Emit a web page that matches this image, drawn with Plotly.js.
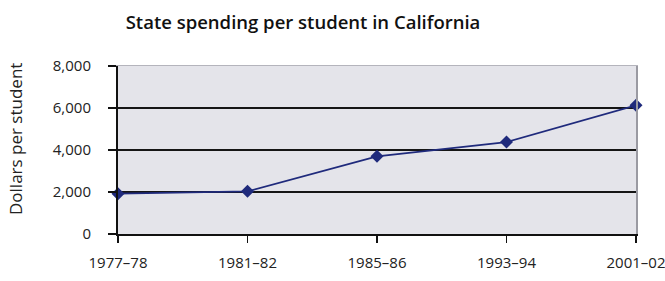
<!DOCTYPE html>
<html>
<head>
<meta charset="utf-8">
<script src="https://cdn.plot.ly/plotly-3.0.1.min.js"></script>
<style>html,body{margin:0;padding:0;background:#fff;}#chart{width:665px;height:281px;}</style>
</head>
<body>
<div id="chart"></div>
<script>
const years = ["1977–78", "1981–82", "1985–86", "1993–94", "2001–02"];
const spending = [1920, 2030, 3700, 4380, 6130];
const gridValues = [2000, 4000, 6000];
const yTicks = [0, 2000, 4000, 6000, 8000];

const fontFam = "'Open Sans', 'Noto Sans', sans-serif";

const traces = [
  {
    x: years, y: spending, xaxis: 'x2', yaxis: 'y2', type: 'scatter', mode: 'none',
    hoverinfo: 'skip', showlegend: false
  },
  {
    x: years, y: spending, type: 'scatter', mode: 'lines+markers',
    line: {color: '#1f2a7c', width: 1.8},
    marker: {symbol: 'diamond', size: 10, color: '#1f2a7c'},
    cliponaxis: false, hoverinfo: 'skip', showlegend: false
  }
];

const layout = {
  width: 665, height: 281,
  margin: {l: 118, r: 29, t: 66, b: 47},
  paper_bgcolor: '#ffffff',
  plot_bgcolor: '#e4e4ea',
  font: {family: fontFam, color: '#222'},
  title: {
    text: 'State spending per student in California',
    font: {family: fontFam, size: 18.5, weight: 600, color: '#111'},
    xref: 'container', yref: 'container', x: 303 / 665, xanchor: 'center',
    y: 1 - 23 / 281, yanchor: 'middle'
  },
  xaxis: {
    type: 'category', range: [0, 4],
    showgrid: false, zeroline: false,
    showline: true, linecolor: '#111', linewidth: 2,
    ticks: 'outside', ticklen: 7, tickcolor: '#111', tickwidth: 1.5,
    tickfont: {size: 15, color: '#222'}, ticklabelstandoff: 7,
    fixedrange: true
  },
  xaxis2: {
    type: 'category', range: [0, 4], overlaying: 'x', side: 'top',
    showgrid: false, zeroline: false, showticklabels: false, ticks: '',
    showline: true, linecolor: '#b4b4bc', linewidth: 1,
    fixedrange: true
  },
  yaxis: {
    range: [0, 8000], tickvals: yTicks, tickformat: ',d',
    showgrid: false, zeroline: false,
    showline: true, linecolor: '#111', linewidth: 2,
    ticks: 'outside', ticklen: 8, tickcolor: '#111', tickwidth: 1.5,
    tickfont: {size: 15, color: '#222'}, ticklabelstandoff: 14,
    fixedrange: true
  },
  yaxis2: {
    overlaying: 'y', side: 'right', range: [0, 8000], tickvals: gridValues,
    showgrid: true, gridcolor: '#151515', gridwidth: 2,
    showticklabels: false, ticks: '', zeroline: false,
    showline: true, linecolor: '#9a9aa2', linewidth: 1.5,
    fixedrange: true
  },
  annotations: [{
    text: 'Dollars per student', textangle: -90,
    xref: 'paper', yref: 'paper',
    x: -(118 - 15) / 518, y: (234 - 139) / 168,
    xanchor: 'center', yanchor: 'middle', showarrow: false,
    font: {family: fontFam, size: 17, color: '#222'}
  }]
};

Plotly.newPlot('chart', traces, layout, {displayModeBar: false, staticPlot: true});
</script>
</body>
</html>
